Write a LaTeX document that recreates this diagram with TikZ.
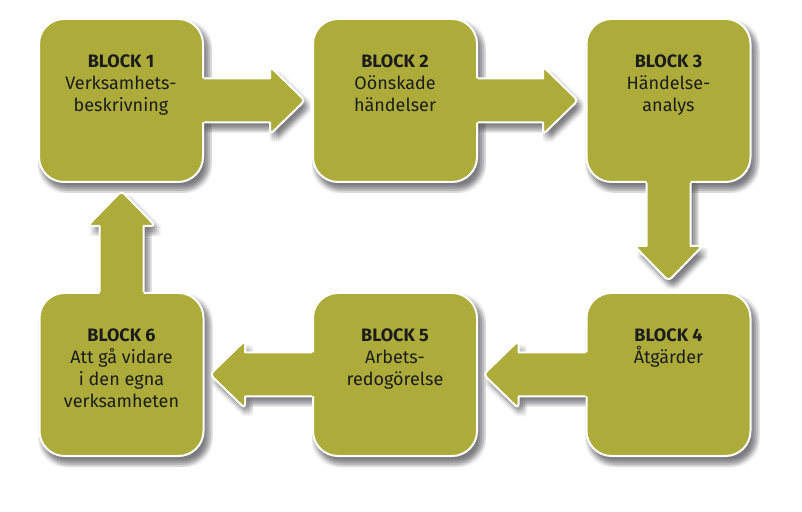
\documentclass[tikz,border=0pt]{standalone}
\usepackage{fontspec}
\setmainfont{Fira Sans}
\usetikzlibrary{calc}
\pgfdeclarelayer{background}
\pgfsetlayers{background,main}
\definecolor{blockolive}{HTML}{ADAC3A}
\definecolor{textdark}{HTML}{1C1C1C}
\definecolor{shadowgray}{HTML}{3A3A40}
\tikzset{
  blockbox/.style={draw=white, line width=2pt, fill=blockolive, rounded corners=25pt,
    minimum width=164pt, minimum height=163pt, inner sep=0pt},
  blocktext/.style={anchor=north, align=center, inner sep=0pt, text=textdark,
    font=\fontsize{18}{22}\selectfont},
  arrowbody/.style={fill=blockolive},
  shadowlayer/.style={fill=shadowgray, fill opacity=0.04},
  arrowline/.style={draw=white, line width=2pt, line join=round},
}
\newcommand\arrowfillpath[1]{(-3,22) -- ({#1-35},22) [rounded corners=4pt] -- ({#1-35},34) -- (#1,0) -- ({#1-35},-34) [sharp corners] -- ({#1-35},-22) -- (-3,-22) -- cycle}
\newcommand\arrowlinepath[1]{(0,22) -- ({#1-35},22) [rounded corners=4pt] -- ({#1-35},34) -- (#1,0) -- ({#1-35},-34) [sharp corners] -- ({#1-35},-22) -- (0,-22)}
% soft shadow of a block: stacked translucent copies
\newcommand\blockshadow[1]{%
  \begin{pgfonlayer}{background}
    \foreach \dx in {-4,-2,0,2,4} \foreach \dy in {-4,-2,0,2,4} {
      \fill[shadowlayer, rounded corners=25pt]
        ($(#1.south west)+({4+\dx},{-6+\dy})$) rectangle ($(#1.north east)+({4+\dx},{-6+\dy})$);
    }
  \end{pgfonlayer}
}
\newcommand\blockarrow[3]{%
  \begin{pgfonlayer}{background}
    \foreach \dx in {-4,-2,0,2,4} \foreach \dy in {-4,-2,0,2,4} {
      \fill[shadowlayer, shift={($(#1)+({4+\dx},{-6+\dy})$)}, rotate=#2] \arrowfillpath{#3};
    }
  \end{pgfonlayer}
  \fill[arrowbody, shift={(#1)}, rotate=#2] \arrowfillpath{#3};
  \draw[arrowline, shift={(#1)}, rotate=#2] \arrowlinepath{#3};
}
\begin{document}
\begin{tikzpicture}[x=1pt, y=1pt]
\begin{pgfonlayer}{background}
\fill[white] (0,0) rectangle (802,511);
\end{pgfonlayer}
\useasboundingbox (0,0) rectangle (802,511);
% blocks
\node[blockbox] (b1) at (121,410.5) {};
\node[blockbox] (b2) at (395,410.5) {};
\node[blockbox] (b3) at (668.5,410.5) {};
\node[blockbox] (b4) at (668.5,136.5) {};
\node[blockbox] (b5) at (395,136.5) {};
\node[blockbox] (b6) at (121.5,136.5) {};
\blockshadow{b1}\blockshadow{b2}\blockshadow{b3}
\blockshadow{b4}\blockshadow{b5}\blockshadow{b6}
% arrows
\blockarrow{b1.east}{0}{101}
\blockarrow{b2.east}{0}{100}
\blockarrow{b3.south}{-90}{98}
\blockarrow{b4.west}{180}{102}
\blockarrow{b5.west}{180}{102}
\blockarrow{b6.north}{90}{101}
% texts
\node[blocktext] (t1) at ($(b1.north)+(0,-37)$) {\textbf{BLOCK 1}\\Verksamhets-\\beskrivning};
\node[blocktext] (t2) at ($(b2.north)+(0,-37)$) {\textbf{BLOCK 2}\\Oönskade\\händelser};
\node[blocktext] (t3) at ($(b3.north)+(0,-37)$) {\textbf{BLOCK 3}\\Händelse-\\analys};
\node[blocktext] (t4) at ($(b4.north)+(0,-37)$) {\textbf{BLOCK 4}\\Åtgärder};
\node[blocktext] (t5) at ($(b5.north)+(0,-37)$) {\textbf{BLOCK 5}\\Arbets-\\redogörelse};
\node[blocktext] (t6) at ($(b6.north)+(0,-37)$) {\textbf{BLOCK 6}\\Att gå vidare\\i den egna\\verksamheten};
\end{tikzpicture}
\end{document}
